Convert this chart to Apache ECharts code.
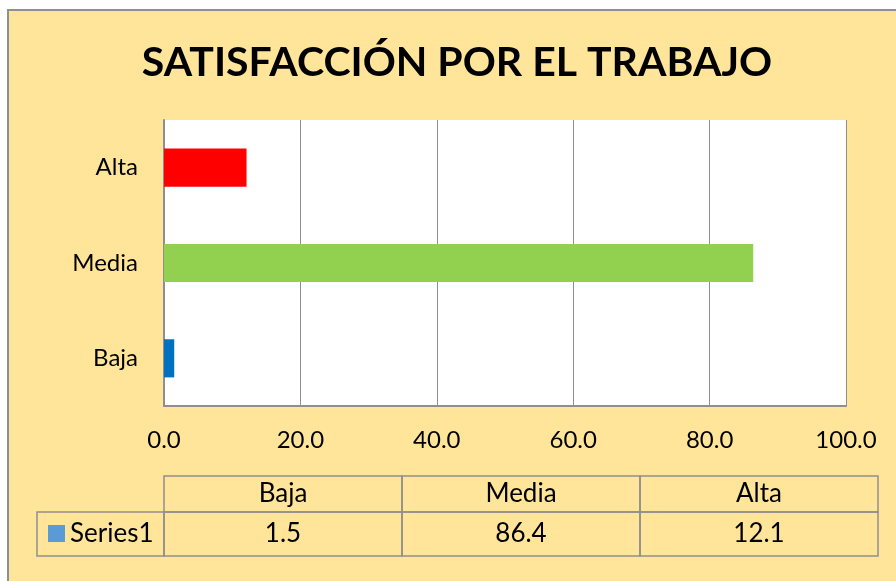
<!DOCTYPE html>
<html>
<head>
<meta charset="utf-8">
<script src="https://cdn.jsdelivr.net/npm/echarts@6/dist/echarts.min.js"></script>
<style>
  html, body { margin: 0; padding: 0; background: #fff; }
  #chart { width: 896px; height: 581px; }
</style>
</head>
<body>
<div id="chart"></div>
<script>
// datos del gráfico
const categories = ['Baja', 'Media', 'Alta'];
const values = [1.5, 86.4, 12.1];
const barColors = ['#0070C0', '#92D050', '#FF0000'];
const seriesName = 'Series1';
const titleText = 'SATISFACCIÓN POR EL TRABAJO';

const font = 'Lato, "Open Sans", sans-serif';
const bg = '#FFE599';
const lineGray = '#8f8f8f';

const chart = echarts.init(document.getElementById('chart'));

// tabla de datos debajo del eje
const tableLeft = 164, colW = 238, headTop = 476, headH = 36, rowH = 44;
const legendLeft = 37;
const tableFont = '26px ' + font;
const tableEls = [];
categories.forEach((c, i) => {
    const x = tableLeft + i * colW;
    tableEls.push({
        type: 'rect', shape: { x: x, y: headTop, width: colW, height: headH },
        style: { fill: 'transparent', stroke: lineGray, lineWidth: 1.5 }
    });
    tableEls.push({
        type: 'rect', shape: { x: x, y: headTop + headH, width: colW, height: rowH },
        style: { fill: 'transparent', stroke: lineGray, lineWidth: 1.5 }
    });
    tableEls.push({
        type: 'text', x: x + colW / 2, y: headTop + headH / 2,
        style: { text: c, font: tableFont, fill: '#000', align: 'center', verticalAlign: 'middle' }
    });
    tableEls.push({
        type: 'text', x: x + colW / 2, y: headTop + headH + rowH / 2,
        style: { text: values[i].toFixed(1), font: tableFont, fill: '#000', align: 'center', verticalAlign: 'middle' }
    });
});
tableEls.push({
    type: 'rect', shape: { x: legendLeft, y: headTop + headH, width: tableLeft - legendLeft, height: rowH },
    style: { fill: 'transparent', stroke: lineGray, lineWidth: 1.5 }
});
tableEls.push({
    type: 'rect', shape: { x: 48, y: headTop + headH + 13, width: 17, height: 17 },
    style: { fill: '#5B9BD5' }
});
tableEls.push({
    type: 'text', x: 70, y: headTop + headH + rowH / 2,
    style: { text: seriesName, font: tableFont, fill: '#000', align: 'left', verticalAlign: 'middle' }
});

chart.setOption({
    backgroundColor: '#fff',
    animation: false,
    title: {
        text: titleText,
        left: 452,
        textAlign: 'center',
        top: 37,
        textStyle: { fontFamily: font, fontWeight: 'bold', fontSize: 41, color: '#000' }
    },
    grid: {
        left: 164,
        right: 50,
        top: 120,
        bottom: 175,
        show: true,
        backgroundColor: '#fff',
        borderWidth: 0
    },
    xAxis: {
        type: 'value',
        min: 0,
        max: 100,
        interval: 20,
        axisLine: { show: true, lineStyle: { color: lineGray, width: 2 } },
        axisTick: { show: false },
        splitLine: { show: true, lineStyle: { color: lineGray, width: 1 } },
        axisLabel: {
            margin: 22,
            fontFamily: font,
            fontSize: 24,
            color: '#000',
            formatter: v => v.toFixed(1)
        }
    },
    yAxis: {
        type: 'category',
        data: categories,
        axisLine: { show: true, lineStyle: { color: lineGray, width: 2 } },
        axisTick: { show: false },
        axisLabel: { margin: 26, fontFamily: font, fontSize: 24, color: '#000' }
    },
    series: [{
        name: seriesName,
        type: 'bar',
        barWidth: '40%',
        data: values.map((v, i) => ({ value: v, itemStyle: { color: barColors[i] } }))
    }],
    graphic: [
        {
            type: 'rect', z: -10, silent: true,
            shape: { x: 8, y: 10, width: 900, height: 590 },
            style: { fill: bg, stroke: lineGray, lineWidth: 2 }
        },
        ...tableEls
    ]
});
</script>
</body>
</html>
